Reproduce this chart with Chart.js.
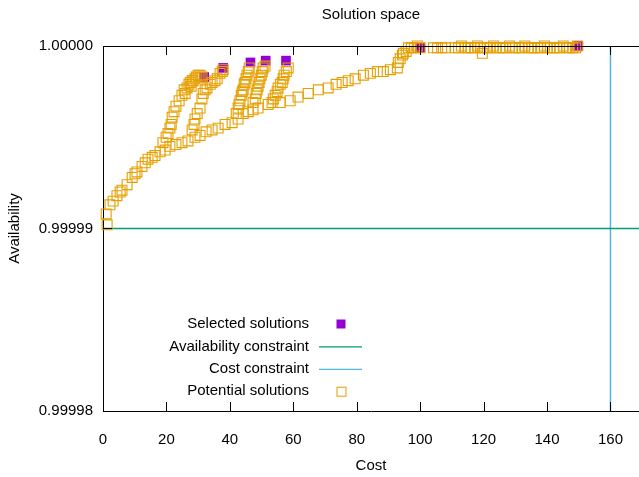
<!DOCTYPE html>
<html>
<head>
<meta charset="utf-8">
<script src="https://cdn.jsdelivr.net/npm/chart.js@4"></script>
<style>
    body { margin: 0; background: #fff; }
</style>
</head>
<body>
<canvas id="espacioSoluciones" width="639" height="477"></canvas>
<script>
// valores
const xTicks = [0, 20, 40, 60, 80, 100, 120, 140, 160];
const yTicks = [0.99998, 0.99999, 1.0];

const selectedCost = [31.9, 37.9, 46.5, 51.3, 57.7, 100.0, 149.9];
const selectedAvail = [0.9999983, 0.9999988, 0.9999991, 0.9999992, 0.9999992, 0.9999999, 1.0];

const availabilityLimit = 0.99999;
const costLimit = 160;

// cadena inferior
const chainCost = [1.3, 1.0, 2.2, 3.2, 4.4, 5.4, 6.0, 7.6, 9.2, 10.1, 10.7, 12.3, 13.3, 14.2, 15.5, 16.4,
    18.0, 19.6, 21.1, 23.0, 24.9, 26.8, 29.0, 30.6, 32.5, 34.4, 36.3, 38.5, 40.7, 42.6, 44.2, 45.8,
    47.3, 48.9, 52.1, 55.9, 59.0, 61.5, 64.7, 67.9, 71.0, 73.5, 75.4, 77.3, 79.5, 82.1, 84.3, 86.5,
    88.4, 90.6, 92.8, 93.1, 93.7, 94.4, 94.7, 95.6, 96.3, 97.2, 98.2, 99.1, 100.0];
const chainAvail = [0.9999902, 0.9999908, 0.9999913, 0.9999915, 0.9999918, 0.9999920, 0.9999921, 0.9999924,
    0.9999928, 0.9999930, 0.9999931, 0.9999934, 0.9999936, 0.9999938, 0.9999939, 0.9999940,
    0.9999942, 0.9999943, 0.9999945, 0.9999946, 0.9999947, 0.9999948, 0.9999950, 0.9999951,
    0.9999953, 0.9999954, 0.9999955, 0.9999957, 0.9999958, 0.9999960, 0.9999963, 0.9999964,
    0.9999965, 0.9999966, 0.9999968, 0.9999969, 0.9999970, 0.9999972, 0.9999974, 0.9999976,
    0.9999977, 0.9999979, 0.9999980, 0.9999981, 0.9999982, 0.9999984, 0.9999985, 0.9999986,
    0.9999986, 0.9999987, 0.9999988, 0.9999991, 0.9999993, 0.9999995, 0.9999996, 0.9999997,
    0.9999999, 0.9999999, 0.9999999, 1.0, 0.9999999];

// ramas
const branchCost = [18.9, 19.9, 20.5, 21.1, 21.5, 21.8, 22.4, 23.0, 24.0, 24.9, 25.6, 25.9, 26.5, 27.1,
    27.5, 27.8, 28.1, 28.4, 29.0, 29.4, 30.0, 30.6, 31.2,
    28.1, 28.7, 29.0, 29.7, 30.6, 31.2, 31.6, 32.2, 32.8, 33.8, 34.4, 35.3, 36.0, 36.9, 37.6, 37.9,
    42.0, 42.6, 42.9, 43.2, 43.6, 43.9, 44.2, 44.5, 44.8, 45.1, 45.4, 45.8, 46.1,
    47.3, 48.0, 48.3, 48.6, 48.9, 49.2, 49.5, 49.9, 50.2, 50.5, 51.1,
    53.3, 53.7, 54.3, 54.9, 55.2, 55.9, 56.5, 56.8, 57.1, 57.8, 58.4];
const branchAvail = [0.9999947, 0.9999950, 0.9999952, 0.9999955, 0.9999957, 0.9999961, 0.9999964, 0.9999967,
    0.9999970, 0.9999973, 0.9999976, 0.9999974, 0.9999977, 0.9999979, 0.9999980, 0.9999978,
    0.9999981, 0.9999981, 0.9999982, 0.9999983, 0.9999984, 0.9999984, 0.9999983,
    0.9999954, 0.9999957, 0.9999960, 0.9999963, 0.9999966, 0.9999971, 0.9999974, 0.9999976,
    0.9999977, 0.9999979, 0.9999980, 0.9999981, 0.9999982, 0.9999985, 0.9999986, 0.9999987,
    0.9999963, 0.9999966, 0.9999968, 0.9999970, 0.9999973, 0.9999975, 0.9999976, 0.9999979,
    0.9999980, 0.9999982, 0.9999984, 0.9999986, 0.9999988,
    0.9999969, 0.9999971, 0.9999974, 0.9999976, 0.9999978, 0.9999980, 0.9999982, 0.9999984,
    0.9999986, 0.9999988, 0.9999989,
    0.9999969, 0.9999971, 0.9999973, 0.9999975, 0.9999977, 0.9999979, 0.9999980, 0.9999982,
    0.9999984, 0.9999986, 0.9999988];

// banda superior
const topCost = [104.2, 105.5, 106.8, 108.0, 111.0, 112.1, 113.0, 114.2, 115.1, 116.0, 117.2, 118.1,
    119.0, 119.6, 120.1, 121.2, 122.0, 123.1, 124.0, 125.2, 126.1, 127.0, 128.2, 129.1, 130.0, 131.2,
    132.1, 133.0, 134.1, 135.2, 136.0, 137.1, 138.0, 139.2, 140.1, 141.0, 142.2, 143.1, 144.0,
    145.1, 146.2, 147.0, 148.1, 149.0, 149.6];
const topAvail = [0.9999999, 0.9999999, 0.9999999, 0.9999999, 0.9999999, 0.9999999, 1.0, 0.9999999,
    0.9999999, 0.9999999, 0.9999999, 1.0, 0.9999999, 0.9999996, 0.9999999, 0.9999999, 0.9999999,
    1.0, 0.9999999, 0.9999999, 0.9999999, 0.9999999, 1.0, 0.9999999, 0.9999999, 0.9999999,
    0.9999999, 1.0, 0.9999999, 0.9999999, 0.9999999, 0.9999999, 0.9999999, 1.0, 0.9999999,
    0.9999999, 0.9999999, 0.9999999, 0.9999999, 1.0, 0.9999999, 0.9999999, 0.9999999, 0.9999999, 1.0];

const fuente = "'Liberation Sans', Arial, sans-serif";
const colorNaranja = "#e69f00";
const colorMorado = "#9400d3";
const colorVerde = "#009e73";
const colorCeleste = "#56b4e9";

function puntos(xs, ys) {
    return xs.map((x, i) => ({ x: x, y: ys[i] }));
}

const potential = puntos(chainCost, chainAvail)
    .concat(puntos(branchCost, branchAvail))
    .concat(puntos(topCost, topAvail));

// ticks hacia adentro, borde superior y leyenda dentro del grafico
const marcoGnuplot = {
    id: "marcoGnuplot",
    afterDatasetsDraw(chart) {
        const { ctx, chartArea } = chart;
        const x = chart.scales.x;
        const y = chart.scales.y;
        ctx.save();
        ctx.strokeStyle = "#000";
        ctx.lineWidth = 1;
        ctx.beginPath();
        ctx.moveTo(chartArea.left, chartArea.top + 0.5);
        ctx.lineTo(chartArea.right, chartArea.top + 0.5);
        x.ticks.forEach((t) => {
            const px = Math.round(x.getPixelForValue(t.value)) + 0.5;
            ctx.moveTo(px, chartArea.bottom);
            ctx.lineTo(px, chartArea.bottom - 9);
            ctx.moveTo(px, chartArea.top);
            ctx.lineTo(px, chartArea.top + 9);
        });
        y.ticks.forEach((t) => {
            const py = Math.round(y.getPixelForValue(t.value)) + 0.5;
            ctx.moveTo(chartArea.left, py);
            ctx.lineTo(chartArea.left + 9, py);
        });
        ctx.stroke();

        // leyenda
        ctx.font = "15px " + fuente;
        ctx.textAlign = "right";
        ctx.textBaseline = "middle";
        chart.data.datasets.forEach((ds, i) => {
            const fy = chartArea.top + 278 + i * 22.4;
            const tx = chartArea.left + 206;
            ctx.fillStyle = "#000";
            ctx.fillText(ds.label, tx, fy);
            const mx = chartArea.left + 238;
            if (ds.showLine) {
                ctx.strokeStyle = ds.borderColor;
                ctx.lineWidth = 1.3;
                ctx.beginPath();
                ctx.moveTo(chartArea.left + 216, fy + 0.5);
                ctx.lineTo(chartArea.left + 259, fy + 0.5);
                ctx.stroke();
            } else if (ds.backgroundColor !== "transparent") {
                ctx.fillStyle = ds.backgroundColor;
                ctx.fillRect(mx - 4.5, fy - 4.5, 9, 9);
            } else {
                ctx.strokeStyle = ds.borderColor;
                ctx.lineWidth = 1;
                ctx.strokeRect(mx - 4, fy - 4, 9, 9);
            }
        });
        ctx.restore();
    },
};

new Chart(document.getElementById("espacioSoluciones"), {
    type: "scatter",
    data: {
        datasets: [
            {
                label: "Selected solutions",
                data: puntos(selectedCost, selectedAvail),
                pointStyle: "rect",
                pointRadius: 6.8,
                backgroundColor: colorMorado,
                borderColor: colorMorado,
                borderWidth: 0,
                clip: false,
                order: 1,
            },
            {
                label: "Availability constraint",
                data: [{ x: 0, y: availabilityLimit }, { x: 169, y: availabilityLimit }],
                showLine: true,
                pointRadius: 0,
                borderColor: colorVerde,
                borderWidth: 1.3,
                order: 2,
            },
            {
                label: "Cost constraint",
                data: [{ x: costLimit, y: yTicks[0] }, { x: costLimit, y: yTicks[2] }],
                showLine: true,
                pointRadius: 0,
                borderColor: colorCeleste,
                borderWidth: 1.5,
                order: 3,
            },
            {
                label: "Potential solutions",
                data: potential,
                pointStyle: "rect",
                pointRadius: 7,
                backgroundColor: "transparent",
                borderColor: colorNaranja,
                borderWidth: 1.1,
                clip: false,
                order: 0,
            },
        ],
    },
    options: {
        responsive: false,
        animation: false,
        layout: { autoPadding: false, padding: 0 },
        scales: {
            x: {
                type: "linear",
                min: 0,
                max: 169,
                afterBuildTicks: (scale) => { scale.ticks = xTicks.map((v) => ({ value: v })); },
                afterFit: (scale) => {
                    scale.height = 66;
                    scale.paddingLeft = 0;
                    scale.paddingRight = 0;
                },
                grid: { display: false, drawTicks: false },
                border: { color: "#000", width: 1 },
                ticks: {
                    font: { family: fuente, size: 15 },
                    color: "#000",
                    padding: 20,
                    maxRotation: 0,
                    callback: (value) => value,
                },
                title: {
                    display: true,
                    text: "Cost",
                    font: { family: fuente, size: 15 },
                    color: "#000",
                    padding: { top: 0, bottom: 2 },
                },
            },
            y: {
                type: "linear",
                min: yTicks[0],
                max: yTicks[2],
                afterBuildTicks: (scale) => { scale.ticks = yTicks.map((v) => ({ value: v })); },
                afterFit: (scale) => { scale.width = 103; },
                grid: { display: false, drawTicks: false },
                border: { color: "#000", width: 1 },
                ticks: {
                    font: { family: fuente, size: 15 },
                    color: "#000",
                    padding: 10,
                    callback: (value) => Number(value).toFixed(5),
                },
                title: {
                    display: true,
                    text: "Availability",
                    font: { family: fuente, size: 15 },
                    color: "#000",
                    padding: { top: 6, bottom: 0 },
                },
            },
        },
        plugins: {
            legend: { display: false },
            tooltip: { enabled: false },
            title: {
                display: true,
                text: "Solution space",
                fullSize: false,
                font: { family: fuente, size: 15, weight: "normal" },
                color: "#000",
                padding: { top: 6, bottom: 22 },
            },
        },
    },
    plugins: [marcoGnuplot],
});
</script>
</body>
</html>
